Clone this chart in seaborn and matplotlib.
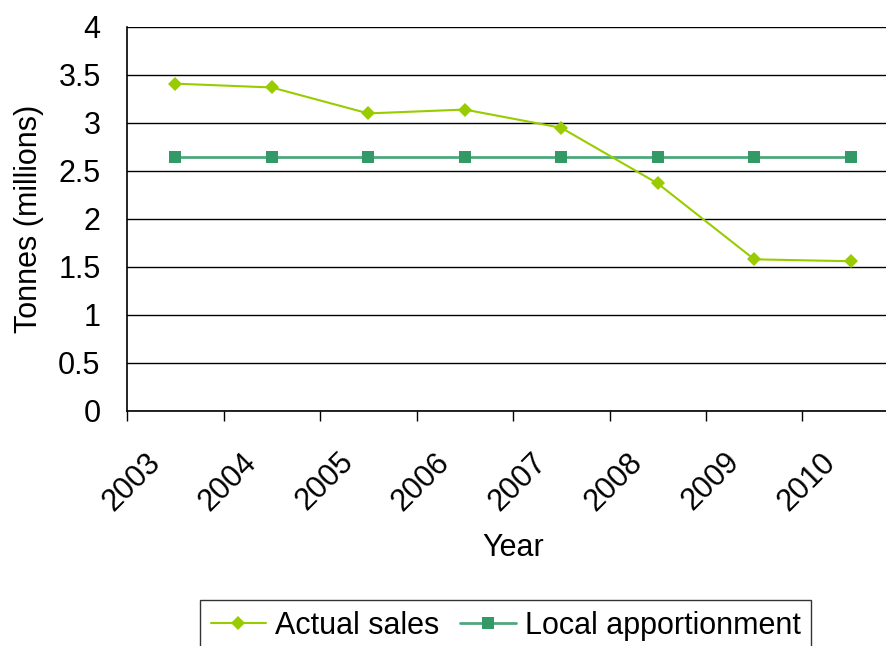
import matplotlib
matplotlib.use("Agg")
import matplotlib.pyplot as plt
from matplotlib.transforms import ScaledTranslation
from matplotlib.lines import Line2D
import seaborn as sns
import pandas as pd
import numpy as np

years = ["2003", "2004", "2005", "2006", "2007", "2008", "2009", "2010"]
actual_sales = [3.41, 3.37, 3.10, 3.14, 2.95, 2.37, 1.58, 1.56]
local_apportionment = [2.65, 2.65, 2.65, 2.65, 2.65, 2.65, 2.65, 2.65]
y_ticks = [0, 0.5, 1, 1.5, 2, 2.5, 3, 3.5, 4]
y_tick_labels = ["0", "0.5", "1", "1.5", "2", "2.5", "3", "3.5", "4"]

sns.set_style("white")
plt.rcParams["font.family"] = ["Liberation Sans", "DejaVu Sans"]
plt.rcParams["text.color"] = "black"
plt.rcParams["axes.labelcolor"] = "black"
plt.rcParams["xtick.color"] = "black"
plt.rcParams["ytick.color"] = "black"

FS = 22
C_SALES = "#99CC00"
C_LOCAL = "#339966"

fig = plt.figure(figsize=(8.87, 6.46), dpi=100)
W, H = 887, 646
left, right, top, bottom = 127, 899, 27, 411
ax = fig.add_axes([left / W, 1 - bottom / H, (right - left) / W, (bottom - top) / H])

df_sales = pd.DataFrame({"Year": years, "Tonnes": actual_sales})
df_local = pd.DataFrame({"Year": years, "Tonnes": local_apportionment})

sns.lineplot(data=df_sales, x="Year", y="Tonnes", ax=ax, color=C_SALES,
             linewidth=1.5, marker="D", markersize=7, markeredgewidth=0,
             markerfacecolor=C_SALES, zorder=4)
sns.lineplot(data=df_local, x="Year", y="Tonnes", ax=ax, color="#4fa87c",
             linewidth=2, marker="s", markersize=8, markeredgewidth=0,
             markerfacecolor=C_LOCAL, zorder=3)

ax.set_xlim(-0.5, len(years) - 0.5)
ax.set_ylim(0, 4)

# gridlines
ax.set_yticks(y_ticks)
ax.set_yticklabels(y_tick_labels)
ax.yaxis.grid(True, color="black", linewidth=1.0)
ax.xaxis.grid(False)
ax.set_axisbelow(True)
ax.tick_params(axis="y", length=0, pad=19, labelsize=FS, labelcolor="black")

# x: major ticks at boundaries, labels at centers (minor)
ax.set_xticks(np.arange(-0.5, len(years), 1.0))
ax.set_xticklabels([])
ax.tick_params(axis="x", which="major", direction="out", length=7, width=1,
               color="black", bottom=True)
ax.set_xticks(np.arange(len(years)), minor=True)
ax.set_xticklabels(years, minor=True, rotation=45, ha="right", va="top",
                   rotation_mode="anchor", fontsize=FS, color="black")
ax.tick_params(axis="x", which="minor", length=0, pad=26)
off = ScaledTranslation(-30 / 100, 0, fig.dpi_scale_trans)
for lab in ax.get_xticklabels(minor=True):
    lab.set_transform(lab.get_transform() + off)

for s in ["top", "right"]:
    ax.spines[s].set_visible(False)
for s in ["left", "bottom"]:
    ax.spines[s].set_color("black")
    ax.spines[s].set_linewidth(1.2)

ax.set_xlabel("Year", fontsize=FS, color="black")
ax.set_ylabel("Tonnes (millions)", fontsize=FS, color="black")
ax.xaxis.set_label_coords(0.5, -(548 - 411) / (bottom - top))
ax.xaxis.label.set_va("center")
ax.yaxis.set_label_coords(-(127 - 29) / (right - left), 0.5)
ax.yaxis.label.set_va("center")

if ax.get_legend() is not None:
    ax.get_legend().remove()

handles = [
    Line2D([], [], color=C_SALES, lw=1.5, marker="D", ms=7, mew=0),
    Line2D([], [], color="#4fa87c", lw=2, marker="s", ms=8, mew=0,
           markerfacecolor=C_LOCAL),
]
leg = fig.legend(handles, ["Actual sales", "Local apportionment"],
                 loc="upper left", bbox_to_anchor=(200 / W, 1 - 600 / H),
                 ncol=2, frameon=True, fancybox=False, edgecolor="black",
                 fontsize=FS, handlelength=1.8, handletextpad=0.3,
                 columnspacing=0.7, borderpad=0.35, borderaxespad=0)
leg.get_frame().set_linewidth(1.0)
for t in leg.get_texts():
    t.set_color("black")

fig.savefig("out.png", dpi=100)
